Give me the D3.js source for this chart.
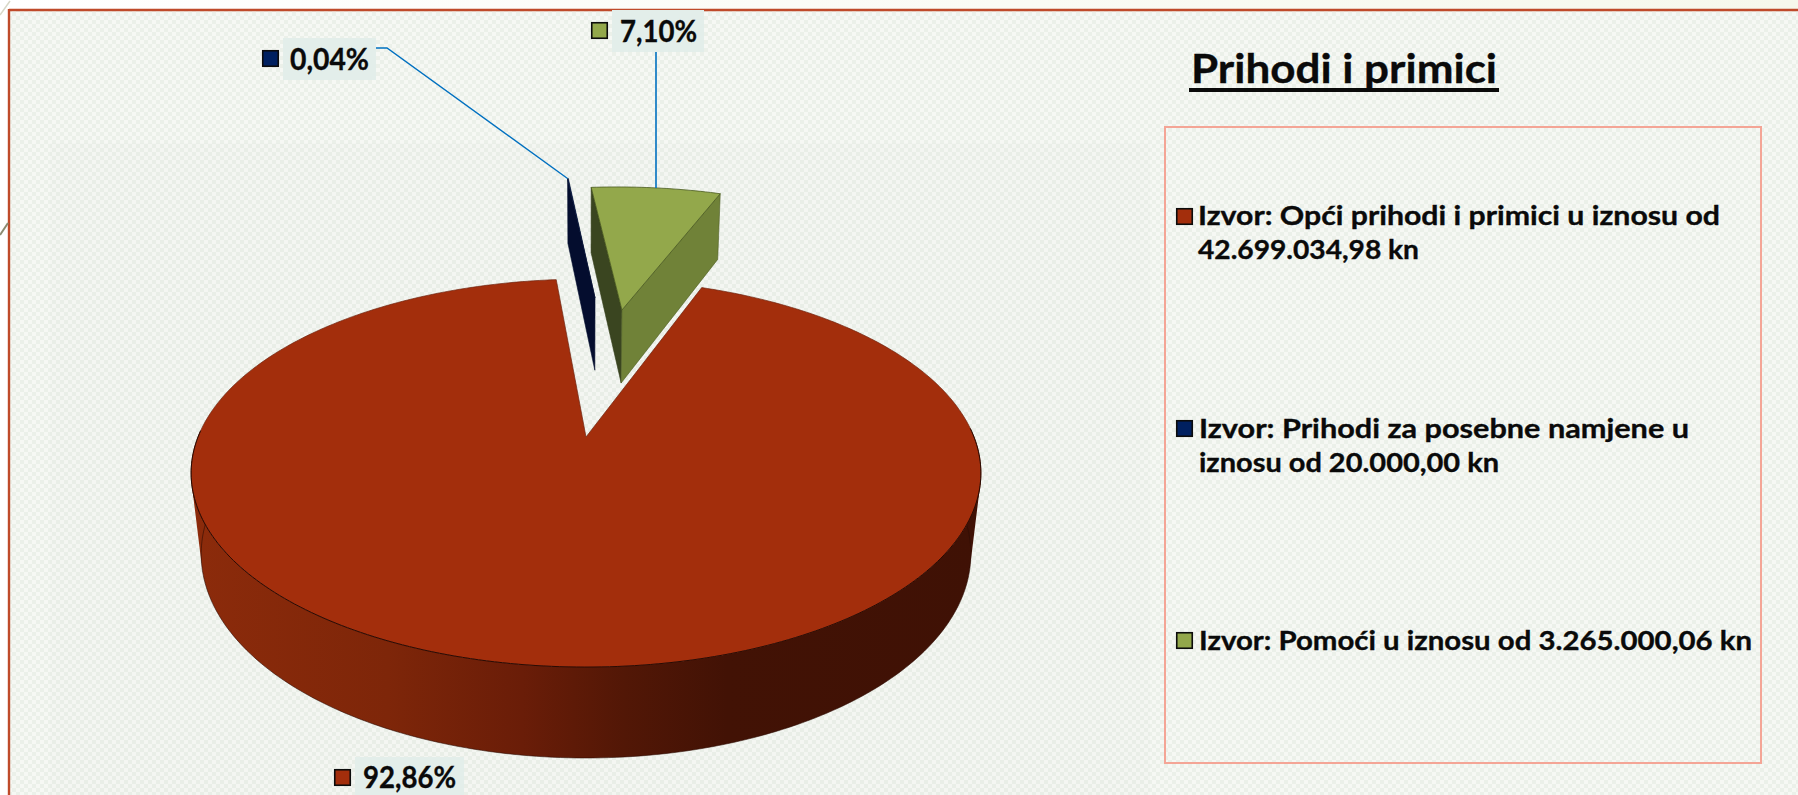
<!DOCTYPE html>
<html><head><meta charset="utf-8">
<script src="https://cdn.jsdelivr.net/npm/d3@7"></script>
<style>html,body{margin:0;padding:0;background:#fff;overflow:hidden}svg{display:block}text{font-family:Lato,"Open Sans",sans-serif;font-weight:700;fill:#0a0a0a;stroke:#0a0a0a;stroke-width:0.35px}</style>
</head><body><svg id="c" width="1798" height="795"></svg>
<script>
// ---- data ----
const categories = ["Izvor: Opći prihodi i primici u iznosu od 42.699.034,98 kn",
                    "Izvor: Prihodi za posebne namjene u iznosu od 20.000,00 kn",
                    "Izvor: Pomoći u iznosu od 3.265.000,06 kn"];
const amounts = [42699034.98, 20000.00, 3265000.06];
const percentLabels = ["92,86%", "0,04%", "7,10%"];
const title = "Prihodi i primici";
const colors = ["#a32e0c", "#002060", "#93a84b"];

// ---- layout ----
const legendRows = [
  {key:[1176,208], lines:[{t:"Izvor: Opći prihodi i primici u iznosu od",x:1198,x2:1720,y:225},{t:"42.699.034,98 kn",x:1198,x2:1419,y:259}]},
  {key:[1176,420], lines:[{t:"Izvor: Prihodi za posebne namjene u",x:1199,x2:1689,y:438},{t:"iznosu od 20.000,00 kn",x:1199,x2:1499,y:472}]},
  {key:[1176,632], lines:[{t:"Izvor: Pomoći u iznosu od 3.265.000,06 kn",x:1199,x2:1752,y:650}]}
];
const labelLayout = [
  {box:[355,757,109,38], key:[334,769], x:363, x2:456, y:788},
  {box:[283,38,93,42],   key:[262,50],  x:290, x2:369, y:70},
  {box:[612,10,92,42],   key:[591,22],  x:620, x2:697, y:42}
];
// perspective model of the pie: disc plane seen by a tilted camera
const P = {ax:586, ay:437, Rx:388, Ry:187.3, k:0.186, c:0.0253, h:82.1};
// explosion offset of each slice in units of the radius
const explode = [[0,0],[0.027,-0.861],[0.106,-0.776]];
const startDeg = 20.5;

const rad = d=>d*Math.PI/180;
const svg = d3.select("#c");
const defs = svg.append("defs");

const pat = defs.append("pattern").attr("id","chk").attr("width",8).attr("height",8).attr("patternUnits","userSpaceOnUse");
pat.append("rect").attr("width",8).attr("height",8).attr("fill","#f6f8f4");
pat.append("rect").attr("width",4).attr("height",4).attr("fill","#ebf0e9");
pat.append("rect").attr("x",4).attr("y",4).attr("width",4).attr("height",4).attr("fill","#ebf0e9");

const wallGrad = defs.append("linearGradient").attr("id","wall").attr("gradientUnits","userSpaceOnUse")
  .attr("x1",190).attr("x2",980).attr("y1",0).attr("y2",0);
[[0,"#8c2b0b"],[0.25,"#7e2609"],[0.42,"#6a1d08"],[0.55,"#521706"],[0.68,"#421205"],[1,"#3f1105"]]
  .forEach(s=>wallGrad.append("stop").attr("offset",s[0]).attr("stop-color",s[1]));
const capGrad = defs.append("linearGradient").attr("id","cap").attr("x1",0).attr("x2",1).attr("y1",0).attr("y2",0);
capGrad.append("stop").attr("offset",0).attr("stop-color","#ffffff");
capGrad.append("stop").attr("offset",1).attr("stop-color","#f6f8ec");

// background and frame
svg.append("rect").attr("width",1798).attr("height",10).attr("fill","url(#cap)");
svg.append("rect").attr("x",9).attr("y",10).attr("width",1789).attr("height",785).attr("fill","url(#chk)");
svg.append("rect").attr("x",50).attr("y",143).attr("width",1100).attr("height",652).attr("fill","#c8d8cc").attr("opacity",0.04);
svg.append("path").attr("d","M9,10H1798").attr("stroke","#bf4a2a").attr("stroke-width",2.4).attr("fill","none");
svg.append("path").attr("d","M9,9V795").attr("stroke","#bf4a2a").attr("stroke-width",2.4).attr("fill","none");
svg.append("path").attr("d","M0,235L8,223").attr("stroke","#8a8a70").attr("stroke-width",2).attr("fill","none");
svg.append("path").attr("d","M0,15L10,1").attr("stroke","#d8d8c8").attr("stroke-width",1.5).attr("fill","none");

// pie angles
const pie = d3.pie().sort(null).startAngle(rad(startDeg)).endAngle(rad(startDeg+360));
const arcs = pie(amounts);

// project a point of the disc (u,v) at z=0 top plane, z=1 bottom plane
function proj(u,v,z){
  const w = 1 - P.k*v + P.c*z;
  return [P.ax + P.Rx*u/w, P.ay + (P.Ry*v + P.h*z)/w];
}
const line = d3.line();
function rimAngles(a){
  const n = Math.max(2, Math.ceil((a.endAngle-a.startAngle)/rad(1)));
  return d3.range(n+1).map(j=>a.startAngle + (a.endAngle-a.startAngle)*j/n);
}
function rim(a,i,z){
  const [ex,ey] = explode[i];
  return rimAngles(a).map(t=>proj(ex+Math.sin(t), ey-Math.cos(t), z));
}
function apex(i,z){return proj(explode[i][0],explode[i][1],z);}
function edge(a,i,ang,z){return proj(explode[i][0]+Math.sin(ang),explode[i][1]-Math.cos(ang),z);}
function topPath(a,i){return line([apex(i,0),...rim(a,i,0)])+"Z";}
function quad(a,i,ang){return line([apex(i,0),edge(a,i,ang,0),edge(a,i,ang,1),apex(i,1)])+"Z";}

const pieG = svg.append("g");
// red slice: outer wall as one path of same-wound quads, so the silhouette stays straight at the sides without seams
const frontAngles = rimAngles(arcs[0]).filter(t=>-Math.cos(t) > -0.05);
const wallD = d3.pairs(frontAngles).map(([t0,t1])=>{
  const q = [proj(Math.sin(t0),-Math.cos(t0),0),proj(Math.sin(t1),-Math.cos(t1),0),
             proj(Math.sin(t1),-Math.cos(t1),1),proj(Math.sin(t0),-Math.cos(t0),1)];
  if (d3.polygonArea(q) < 0) q.reverse();
  return line(q)+"Z";
}).join("");
pieG.append("path").attr("d",wallD).attr("fill","url(#wall)").attr("fill-rule","nonzero");
pieG.append("path").attr("d",line(frontAngles.map(t=>proj(Math.sin(t),-Math.cos(t),1))))
  .attr("fill","none").attr("stroke","#2e0c03").attr("stroke-width",0.6);
pieG.append("path").attr("d",topPath(arcs[0],0)).attr("fill",colors[0]).attr("stroke","#6e2410").attr("stroke-width",0.7);
pieG.append("path").attr("d",line(frontAngles.map(t=>proj(Math.sin(t),-Math.cos(t),0))))
  .attr("fill","none").attr("stroke","#2a0a02").attr("stroke-width",1);
// blue sliver
pieG.append("path").attr("d",quad(arcs[1],1,arcs[1].startAngle)).attr("fill","#040d2e").attr("stroke","#040d2e").attr("stroke-width",0.6);
pieG.append("path").attr("d",topPath(arcs[1],1)).attr("fill",colors[1]).attr("stroke","#040d2e").attr("stroke-width",0.6);
// green slice
pieG.append("path").attr("d",quad(arcs[2],2,arcs[2].startAngle)).attr("fill","#3a4520").attr("stroke","#323c18").attr("stroke-width",0.6);
pieG.append("path").attr("d",quad(arcs[2],2,arcs[2].endAngle)).attr("fill","#708238").attr("stroke","#4f5e25").attr("stroke-width",0.6);
pieG.append("path").attr("d",topPath(arcs[2],2)).attr("fill",colors[2]).attr("stroke","#4a5a20").attr("stroke-width",0.8);

// leader lines, ending on the rim of their slice
const blueRim = rim(arcs[1],1,0)[0];
svg.append("path").attr("d",line([[376,48],[387,48],blueRim])).attr("fill","none").attr("stroke","#0070c0").attr("stroke-width",1.4);
const gx = 656;
const gRim = rim(arcs[2],2,0).reduce((b,p)=>Math.abs(p[0]-gx)<Math.abs(b[0]-gx)?p:b);
svg.append("path").attr("d",line([[gx,52],[gx,gRim[1]]])).attr("fill","none").attr("stroke","#0070c0").attr("stroke-width",1.6);

// data labels
function fitted(sel,t,x,x2,y,size){
  return sel.append("text").attr("x",x).attr("y",y).attr("font-size",size)
    .attr("textLength",x2-x).attr("lengthAdjust","spacingAndGlyphs").text(t);
}
function keyBox(x,y,fill){
  svg.append("rect").attr("x",x+0.75).attr("y",y+0.75).attr("width",15.5).attr("height",15.5)
    .attr("fill",fill).attr("stroke","#0c0c0c").attr("stroke-width",1.6);
}
labelLayout.forEach((l,i)=>{
  svg.append("rect").attr("x",l.box[0]).attr("y",l.box[1]).attr("width",l.box[2]).attr("height",l.box[3]).attr("fill","#e3eeea");
  keyBox(l.key[0],l.key[1],colors[i]);
  fitted(svg,percentLabels[i],l.x,l.x2,l.y,30);
});

// title
fitted(svg,title,1191,1497,83,41);
svg.append("rect").attr("x",1189).attr("y",88).attr("width",310).attr("height",4).attr("fill","#0a0a0a");

// legend
svg.append("rect").attr("x",1165).attr("y",127).attr("width",596).attr("height",636)
  .attr("fill","none").attr("stroke","#f4a596").attr("stroke-width",2);
legendRows.forEach((r,i)=>{
  keyBox(r.key[0],r.key[1],colors[i]);
  r.lines.forEach(l=>fitted(svg,l.t,l.x,l.x2,l.y,27));
});
</script></body></html>
